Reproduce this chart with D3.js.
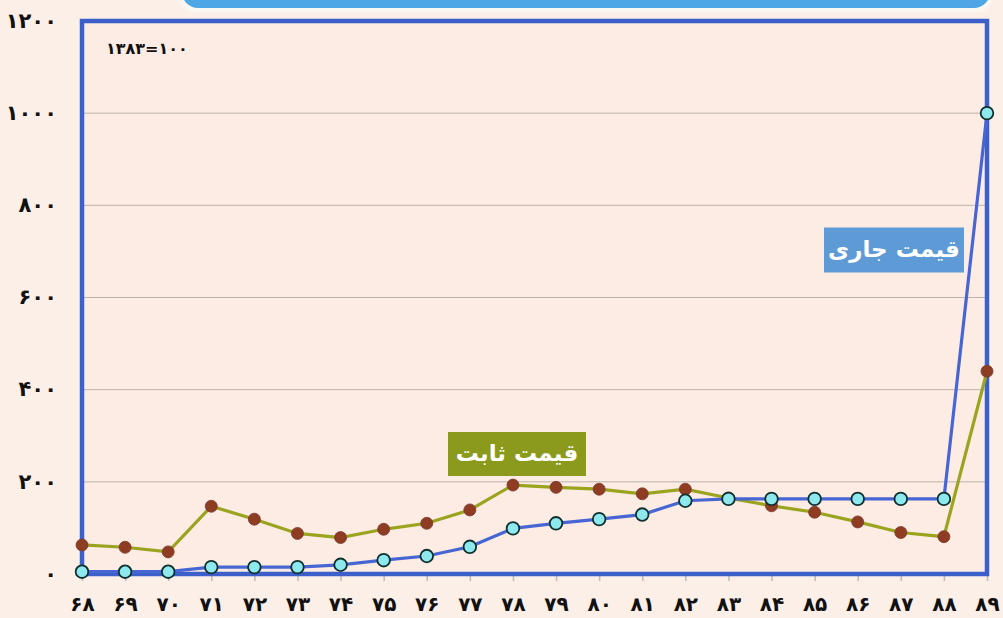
<!DOCTYPE html>
<html><head><meta charset="utf-8">
<script src="https://cdn.jsdelivr.net/npm/d3@7"></script>
<style>
html,body{margin:0;padding:0;background:#fcefe8;}
svg{display:block;}
text{font-family:"DejaVu Sans",sans-serif;font-weight:bold;}
</style></head>
<body>
<svg id="chart" width="1003" height="618"></svg>
<script>
const years = ["۶۸","۶۹","۷۰","۷۱","۷۲","۷۳","۷۴","۷۵","۷۶","۷۷","۷۸","۷۹","۸۰","۸۱","۸۲","۸۳","۸۴","۸۵","۸۶","۸۷","۸۸","۸۹"];
const currentPrice = [5,5,5,15,15,15,20,30,39,59,99,110,119,129,159,163,163,163,163,163,163,1000];
const constantPrice = [63,58,48,147,119,88,79,97,110,139,193,188,184,174,184,165,148,134,113,90,81,440];
const yTicks = [0,200,400,600,800,1000,1200];
const yTickLabels = ["۰","۲۰۰","۴۰۰","۶۰۰","۸۰۰","۱۰۰۰","۱۲۰۰"];
const baseNote = "۱۳۸۳=۱۰۰";
const seriesNames = ["قیمت جاری","قیمت ثابت"];

const svg = d3.select("#chart");
const W = 1003, H = 618;
const m = {left:82, right:16, top:21, bottom:44};
const x = d3.scalePoint().domain(years).range([m.left, W - m.right]);
const y = d3.scaleLinear().domain([0,1200]).range([H - m.bottom, m.top]);

svg.append("rect").attr("width",W).attr("height",H).attr("fill","#fcefe8");

// top decorative bar
svg.append("rect").attr("x",178).attr("y",-40).attr("width",815).attr("height",52)
  .attr("rx",16).attr("fill","#fbf6f0");
svg.append("rect").attr("x",182).attr("y",-40).attr("width",808).attr("height",48)
  .attr("rx",16).attr("fill","#4fa6e6");

// plot background
svg.append("rect").attr("x",m.left).attr("y",m.top)
  .attr("width",W-m.right-m.left).attr("height",H-m.bottom-m.top).attr("fill","#fcece4");

// gridlines
svg.append("g").selectAll("line").data(yTicks.filter(d=>d>0 && d<1200)).join("line")
  .attr("x1",m.left).attr("x2",W-m.right).attr("y1",d=>y(d)).attr("y2",d=>y(d))
  .attr("stroke","#bdb3ad").attr("stroke-width",1);

// y axis labels
const yAxis = d3.axisLeft(y).tickValues(yTicks).tickSize(0).tickPadding(0)
  .tickFormat((d,i)=>yTickLabels[i]);
const gy = svg.append("g").attr("transform",`translate(57,0)`).call(yAxis);
gy.select(".domain").remove();
gy.selectAll("text").attr("font-size",21).attr("fill","#111").attr("dy","0.3em").attr("dx",0);

// x axis
const xAxis = d3.axisBottom(x).tickSize(7).tickPadding(16);
const gx = svg.append("g").attr("transform",`translate(0,${H-m.bottom})`).call(xAxis);
gx.select(".domain").remove();
gx.selectAll(".tick line").attr("stroke","#bbb").attr("stroke-width",1.5);
gx.selectAll("text").attr("font-size",20).attr("fill","#111");

// frame
svg.append("rect").attr("x",m.left).attr("y",m.top)
  .attr("width",W-m.right-m.left).attr("height",H-m.bottom-m.top)
  .attr("fill","none").attr("stroke","#3d5fc9").attr("stroke-width",4.5);

// base note
svg.append("text").attr("x",106).attr("y",54).attr("font-size",16)
  .attr("fill","#111").attr("direction","ltr").text(baseNote);

const line = d3.line().x((d,i)=>x(years[i])).y(d=>y(d));

// constant price series
svg.append("path").datum(constantPrice).attr("d",line)
  .attr("fill","none").attr("stroke","#9aa41f").attr("stroke-width",3.2);
// current price series
svg.append("path").datum(currentPrice).attr("d",line)
  .attr("fill","none").attr("stroke","#4766d3").attr("stroke-width",3.2);

svg.append("g").selectAll("circle").data(constantPrice).join("circle")
  .attr("cx",(d,i)=>x(years[i])).attr("cy",d=>y(d)).attr("r",6)
  .attr("fill","#8e3c22").attr("stroke","#7a3a30").attr("stroke-width",0.8);
svg.append("g").selectAll("circle").data(currentPrice).join("circle")
  .attr("cx",(d,i)=>x(years[i])).attr("cy",d=>y(d)).attr("r",6.3)
  .attr("fill","#8ee9ef").attr("stroke","#10302f").attr("stroke-width",1.8);

// labels
function labelBox(cx, cy, w, h, fill, txt){
  svg.append("rect").attr("x",cx-w/2).attr("y",cy-h/2).attr("width",w).attr("height",h).attr("fill",fill);
  svg.append("text").attr("x",cx).attr("y",cy).attr("text-anchor","middle")
    .attr("dy","0.3em").attr("font-size",23).attr("fill","#fff").attr("direction","rtl").text(txt);
}
labelBox(894, 250, 140, 45, "#5e9bd6", seriesNames[0]);
labelBox(517, 454, 138, 44, "#8b9a1c", seriesNames[1]);
</script>
</body></html>
